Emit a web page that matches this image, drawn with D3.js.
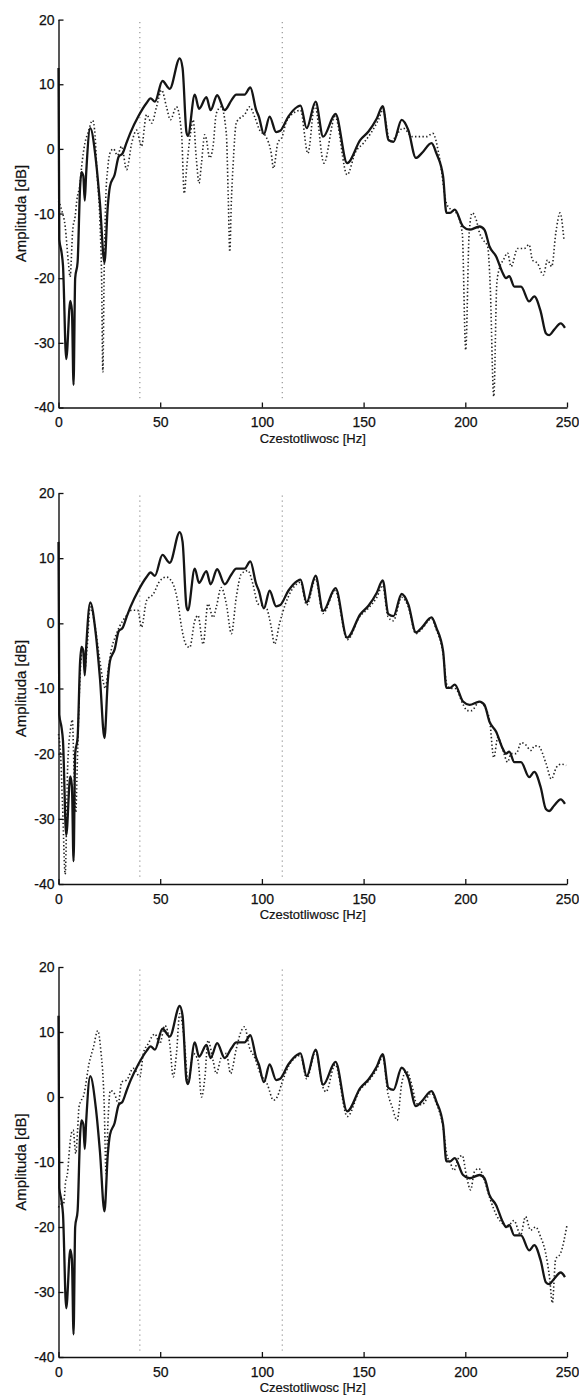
<!DOCTYPE html>
<html>
<head>
<meta charset="utf-8">
<script src="https://cdn.jsdelivr.net/npm/d3@7"></script>
<style>
  html, body { margin: 0; padding: 0; background: #fff; }
  svg text { font-family: "Liberation Sans", Arial, Helvetica, sans-serif; fill: #111; }
</style>
</head>
<body>
<svg id="chart" width="579" height="1396"></svg>
<script>
// reference spectrum (solid line, the same in every panel), [Hz, dB]
const solidCurve = [
  [0, 12.5], [0.4, -14], [1.5, -16], [2.2, -18], [3.8, -32.5], [5.8, -23.5], [6.6, -25],
  [7.4, -36.5], [8.2, -20], [9.4, -17.5], [10.6, -6], [11.3, -3.6], [12.2, -4.2], [12.9, -8],
  [13.6, -3.8], [15.6, 3.2], [18.4, -1.8], [20.4, -8.5], [22.6, -17.6], [24.2, -9], [25.3, -5.8],
  [27.6, -4], [29.6, -1.2], [31.5, -0.7], [33.5, 1], [35.5, 2.6], [39.2, 5], [43.3, 7.1],
  [45.3, 7.8], [47.4, 7.3], [51.1, 10.5], [54.7, 9.3], [59.6, 14], [61, 12.5], [62.9, 2.6],
  [63.6, 2], [67, 8.4], [69.1, 6.2], [72.7, 8], [74.8, 6], [78, 8.3], [81.7, 6], [85, 7.5],
  [87.4, 8.4], [91.5, 8.4], [94.3, 9.5], [97.2, 6], [98.5, 5], [101, 2.3], [103.8, 5],
  [107, 2.6], [109, 2.8], [113, 5], [117.4, 6.5], [119, 6.7], [122, 3.2], [126.4, 7.3],
  [130.1, 1.9], [136.2, 5.4], [141.9, -2.2], [148.4, 1.4], [152.4, 2.7], [156.5, 4.7],
  [159.4, 6.6], [162.2, 1.4], [164.7, 1.1], [168.7, 4.5], [172, 2.9], [175.7, -1.4],
  [178.5, -0.7], [183.4, 0.9], [185.8, -0.7], [189.1, -4.3], [190.7, -9.9], [192.5, -9.9],
  [194.8, -9.4], [198.9, -12], [202.1, -12.5], [207, -12], [209.4, -12.5], [211.9, -15.1],
  [215.1, -16.6], [218.4, -19.2], [220, -20], [221.6, -19.7], [224.1, -21.3], [227.4, -21.3],
  [231.4, -23.6], [233.9, -22.8], [237.1, -25.2], [239.6, -28.5], [241.2, -28.8],
  [243.6, -28], [246.9, -27], [249, -27.7]
];

// dotted curves, one per panel
const dottedTop = [
  [0, -8], [1.6, -9.5], [3.3, -12], [4.9, -17.7], [5.7, -19.8], [7, -12.5], [8.2, -10.4],
  [9, -8], [10.6, -5.3], [11.4, -2.7], [13, 0.9], [14.4, 2.4], [16.8, 4.4], [18, 2], [18.8, -3],
  [20.4, -11.5], [21.2, -20], [21.8, -34.5], [22.4, -20], [23.2, -8], [24.2, -3], [25.5, -0.5],
  [27, 0], [29, -1], [31, 0.4], [33.5, -3.2], [36, 0.9], [38.4, 2.9], [40.8, 0.4], [43.3, 5.3],
  [45.8, 4], [48.2, 6.5], [50.7, 9.1], [53.1, 6.5], [55, 4.5], [58, 6.5], [60.5, 2.4],
  [61.8, -6.9], [63, -3], [64.9, 2.4], [66.2, 4.5], [67.8, -1.7], [69.1, -5.3], [70.3, -2.2],
  [71.9, 2.2], [72.7, 1.5], [74.3, -1.4], [76, 0.4], [77.6, 5.5], [80, 6.5], [82.5, 2.4],
  [83.5, -8], [84.2, -15.9], [85, -8], [85.8, -2.7], [87.4, 4], [89, 4.7], [91.5, 5.3],
  [94, 6.5], [96.4, 5], [98.9, 2.9], [102, 1.9], [104.6, -0.7], [105.7, -3], [107.8, 0.9],
  [110, 1.9], [112, 4.2], [117, 5.8], [119, 6], [122.6, -0.7], [126, 6.8], [130.5, -2.2],
  [136, 5], [141.9, -4], [146, -0.5], [150, 0.9], [157.3, 4.5], [159.5, 6], [163, 1.1],
  [169.5, 3.2], [174, 1.9], [177.5, 1.9], [181, 1.9], [184, 2.4], [187.5, -1.7], [190.7, -8.4],
  [193, -9.4], [195.6, -9.9], [198.5, -13], [200.2, -31.1], [201.9, -13], [203.4, -9.9],
  [205.4, -11], [207, -13], [208.6, -14], [211, -15.1], [212.2, -20.8], [214, -38.3],
  [215.5, -20.8], [217, -18.2], [218.7, -17.2], [220.8, -16.1], [222.5, -18.2], [225.7, -15.4],
  [229, -15.4], [231.4, -14.8], [233, -17.2], [235.5, -17.7], [238.4, -19.5], [240.4, -17.2],
  [242.5, -18.2], [244.5, -13], [246.6, -9.9], [248.5, -14.1]
];

const dottedMiddle = [
  [0, -17], [1, -20], [2, -28], [3.3, -38.5], [4.5, -22], [6, -16], [6.8, -14.8], [7.6, -22],
  [8.5, -29], [9.2, -22], [10, -13], [11, -6], [12, -4], [13, -7], [14, -4], [15.6, 2.5],
  [18, -0.5], [20, -5], [22, -9], [23, -10], [24.5, -7], [26, -4], [28, -2], [30, -0.5],
  [33, 1], [36, 2], [39, 2], [40.8, -0.6], [43.3, 3.5], [46.6, 4.5], [49.8, 6.5], [53, 7.1],
  [56.4, 6], [58.8, 3], [60.5, -0.6], [62.9, -3.4], [64.5, -3.7], [67, 0.4], [68.6, 1.2],
  [71.1, -3.2], [73.5, 3], [76, 0.9], [77.6, 2.5], [80, 5.5], [82.5, 3], [85, -1.6], [87.4, 4],
  [89.9, 7.6], [93.1, 8.1], [95.6, 6], [98, 3], [102, 2.5], [104.6, -0.6], [106.2, -3.2],
  [108.7, 0], [111.6, 3], [117, 6], [119, 6.3], [122, 2.8], [126.4, 6.8], [130, 1.5], [136, 5],
  [142, -2.5], [148, 1], [152, 2.2], [156.5, 4], [159.4, 5.8], [162, 1], [164.6, 0.4],
  [168.7, 4], [172, 2.5], [175.7, -1.6], [178.5, -0.9], [183.4, 0.7], [185.8, -1], [189, -4.5],
  [191, -9.5], [193, -10], [195, -10], [199, -12.5], [201, -13.4], [203, -13.4], [207, -12],
  [209.5, -12.8], [212, -15], [214, -20.6], [216, -17.5], [218.5, -19.5], [220.8, -21.3],
  [222.5, -20], [225, -20], [227.5, -18.3], [229.2, -18.5], [232.4, -19.5], [234, -18.8],
  [235.7, -18.8], [239.8, -21.6], [242.3, -23.9], [244.8, -22.1], [247.2, -21.6], [249.6, -21.8]
];

const dottedBottom = [
  [0, -17], [1, -16.5], [2.5, -16.4], [3.5, -13], [4.4, -11.8], [5.4, -8], [6.3, -5.6],
  [7.2, -5.1], [8.5, -8.7], [9.4, -5], [10.1, -1.5], [12.6, 0.5], [15, 5.1], [17.2, 7.7],
  [19.3, 10.2], [20.8, 7.2], [22.4, -0.5], [23.4, -11.8], [24.3, -4], [25.5, 1], [27.5, 0.5],
  [29.4, -1], [31, 2.3], [33.5, 2.6], [36.8, 4.4], [40, 3.1], [41.7, 6.7], [44.1, 8.2],
  [47.4, 9.7], [49.8, 8.2], [52.3, 11], [54.7, 8.2], [56.4, 3.1], [58, 6.7], [59.6, 12.8],
  [62, 8.2], [63.7, 2], [66.2, 6.7], [68.6, 5.6], [70.3, 0], [72, 3.1], [73.5, 8.7], [76, 5.6],
  [77.6, 3.6], [80, 6.1], [82.5, 6.7], [84.6, 3.6], [87.4, 7.4], [89.9, 10.2], [91.5, 10.8],
  [93.8, 7.7], [96.4, 6.1], [99.2, 3.6], [102.6, 2], [105.7, -0.5], [107.5, 0], [110, 2.3],
  [112, 4], [117, 6.2], [119, 6.4], [122, 2.8], [126.4, 7], [130, 1.5], [131.5, 0.8], [136, 5],
  [142, -3], [148, 1], [152, 2.3], [156.5, 4.3], [159.4, 6.2], [162, 0.5], [164, -1.5],
  [166.5, -3.6], [168.7, 2], [171, 4], [174, 1.5], [176, -1], [178.5, -1.2], [183.4, 0.6],
  [185.8, -1], [189, -4.5], [191, -9], [192.5, -10], [194.4, -11.3], [196.5, -9.5], [198.5, -9],
  [200.5, -12], [202.6, -14.3], [204.5, -11.5], [206.6, -11], [209.4, -12.8], [212, -15.5],
  [215.7, -18.4], [218.4, -19.5], [220.6, -20], [223.9, -19], [227.2, -21.2], [229.6, -18.4],
  [232.1, -20.5], [234.6, -20], [237, -21.5], [239.5, -24], [241.5, -28], [242.8, -31.7],
  [244.4, -25], [246.9, -24], [250, -19.7]
];

const dottedCurves = [dottedTop, dottedMiddle, dottedBottom];
const markerFreqs = [40, 110];
const xTicks = [0, 50, 100, 150, 200, 250];
const yTicks = [20, 10, 0, -10, -20, -30, -40];
const xLabel = "Czestotliwosc [Hz]";
const yLabel = "Amplituda [dB]";

const svg = d3.select("#chart");
const left = 58.5, right = 567;
// pixel top / bottom of each panel's plot area
const panels = [[19.6, 407.5], [493, 884], [967, 1357]];

const x = d3.scaleLinear().domain([0, 250]).range([left, right]);

panels.forEach(function(p, i) {
    const y = d3.scaleLinear().domain([-40, 20]).range([p[1], p[0]]);
    const g = svg.append("g");

    // vertical dotted markers
    g.selectAll(".marker")
        .data(markerFreqs)
        .join("line")
        .attr("x1", d => x(d)).attr("x2", d => x(d))
        .attr("y1", y(19.6)).attr("y2", y(-39))
        .attr("stroke", "#666")
        .attr("stroke-width", 1)
        .attr("stroke-dasharray", "1,4");

    const line = d3.line()
        .x(d => x(d[0]))
        .y(d => y(d[1]))
        .curve(d3.curveMonotoneX);

    g.append("path")
        .datum(dottedCurves[i])
        .attr("d", line)
        .attr("fill", "none")
        .attr("stroke", "#222")
        .attr("stroke-width", 1.6)
        .attr("stroke-dasharray", "1.4,2.3");

    g.append("path")
        .datum(solidCurve)
        .attr("d", line)
        .attr("fill", "none")
        .attr("stroke", "#151515")
        .attr("stroke-width", 2.3)
        .attr("stroke-linejoin", "round");

    // axes, ticks pointing inward like the original
    const xAxis = g.append("g")
        .attr("transform", `translate(0,${p[1]})`)
        .call(d3.axisBottom(x).tickValues(xTicks).tickSize(-5).tickPadding(10).tickSizeOuter(0));
    const yAxis = g.append("g")
        .attr("transform", `translate(${left},0)`)
        .call(d3.axisLeft(y).tickValues(yTicks).tickSize(-5).tickPadding(4).tickSizeOuter(0)
            .tickFormat(d3.format("d")));

    [xAxis, yAxis].forEach(a => {
        a.select(".domain").attr("stroke", "#111").attr("stroke-width", 1.4);
        a.selectAll(".tick line").attr("stroke", "#111").attr("stroke-width", 1.3);
        a.selectAll(".tick text").attr("font-size", "14px")
            .attr("font-family", "'Liberation Sans', Arial, sans-serif").attr("fill", "#111")
            .attr("stroke", "#111").attr("stroke-width", 0.25);
    });
    yAxis.selectAll(".tick text").text(d => d < 0 ? "-" + Math.abs(d) : d);

    g.append("text")
        .attr("x", (left + right) / 2)
        .attr("y", p[1] + 32)
        .attr("text-anchor", "middle")
        .attr("dominant-baseline", "middle")
        .attr("font-size", "13px")
        .attr("stroke", "#111").attr("stroke-width", 0.2)
        .text(xLabel);

    g.append("text")
        .attr("transform", `translate(22,${(p[0] + p[1]) / 2}) rotate(-90)`)
        .attr("text-anchor", "middle")
        .attr("dominant-baseline", "middle")
        .attr("font-size", "15px")
        .attr("stroke", "#111").attr("stroke-width", 0.2)
        .text(yLabel);
});
</script>
</body>
</html>
